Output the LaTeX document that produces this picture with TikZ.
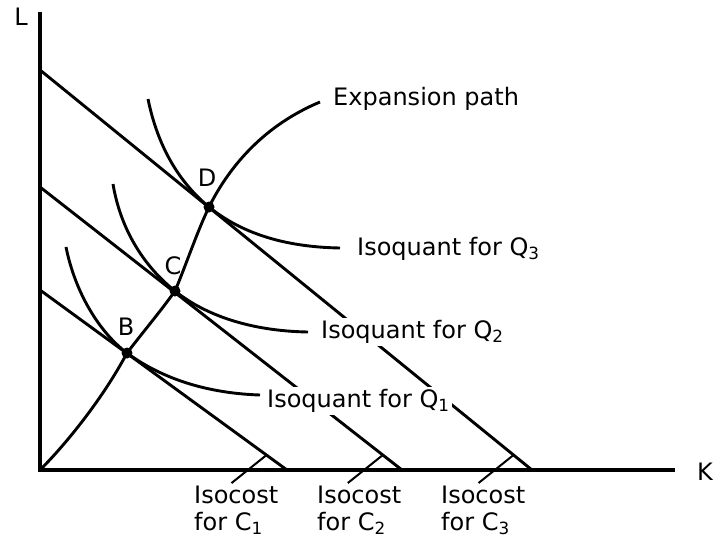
\documentclass[tikz,border=0pt]{standalone}
\usepackage{fontspec}
\setmainfont{DejaVu Sans}
\usetikzlibrary{calc}
\begin{document}
\begin{tikzpicture}[x=1pt,y=-1pt,
  axisline/.style={line width=3.2pt},
  costline/.style={line width=2.9pt},
  quantline/.style={line width=2.9pt},
  anglemark/.style={line width=2pt},
  lbl/.style={font=\fontsize{24}{27}\selectfont, inner sep=1pt},
  wlbl/.style={lbl, fill=white, inner sep=2pt},
  dot/.style={circle, fill=black, inner sep=0pt, minimum size=11pt}]
\useasboundingbox (0,0) rectangle (714,542);

% axes
\coordinate (O) at (40,470);
\coordinate (Ltop) at (40,12);
\coordinate (Kend) at (675,470);
\draw[axisline] (Ltop) -- (O) -- (Kend);
\node[lbl] (Llab) at (21,17) {L};
\node[lbl] (Klab) at (705,472) {K};

% isocost lines
\coordinate (c1a) at (40,290); \coordinate (c1b) at (287,470);
\coordinate (c2a) at (40,187); \coordinate (c2b) at (402,470);
\coordinate (c3a) at (40,70);  \coordinate (c3b) at (532,470);
\draw[costline] (c1a) -- (c1b);
\draw[costline] (c2a) -- (c2b);
\draw[costline] (c3a) -- (c3b);

% angle marks
\coordinate (m1) at ($(c1b)!0.083!(c1a)$);
\coordinate (m2) at ($(c2b)!0.053!(c2a)$);
\coordinate (m3) at ($(c3b)!0.0375!(c3a)$);
\coordinate (n1) at ($(m1)+(-35,28)$);
\coordinate (n2) at ($(m2)+(-35,28)$);
\coordinate (n3) at ($(m3)+(-35,28)$);
\draw[anglemark] (m1) -- (n1);
\draw[anglemark] (m2) -- (n2);
\draw[anglemark] (m3) -- (n3);

% tangency points
\coordinate (B) at (127,353);
\coordinate (C) at (175,291);
\coordinate (D) at (209,207);

% isoquants
\coordinate (q1s) at (66,247);  \coordinate (q1e) at (260,395);
\coordinate (q2s) at (113,184); \coordinate (q2e) at (308,332);
\coordinate (q3s) at (148,99);  \coordinate (q3e) at (340,248);
\draw[quantline] (q1s) .. controls (75,292) and (99,332) .. (B)
  .. controls (157,375) and (200,393) .. (q1e);
\draw[quantline] (q2s) .. controls (121,232) and (146,268) .. (C)
  .. controls (205,315) and (250,331) .. (q2e);
\draw[quantline] (q3s) .. controls (158,148) and (180,183) .. (D)
  .. controls (240,232) and (282,247) .. (q3e);

% expansion path
\coordinate (eend) at (320,102);
\draw[quantline, line join=round] (O) .. controls (65,445) and (102,400) .. (B)
  .. controls (143,332) and (160,312) .. (C)
  .. controls (186,265) and (197,232) .. (D)
  .. controls (230,165) and (265,125) .. (eend);

% dots
\node[dot] (Bdot) at (B) {};
\node[dot] (Cdot) at (C) {};
\node[dot] (Ddot) at (D) {};
\node[lbl] (Blab) at (126,327) {B};
\node[lbl] (Clab) at (173,266) {C};
\node[lbl] (Dlab) at (207,178) {D};

% labels
\node[lbl, anchor=west] (explab) at (332,99) {Expansion path};
\node[wlbl, anchor=west] (q3lab) at (355,249) {Isoquant for Q\textsubscript{3}};
\node[wlbl, anchor=west] (q2lab) at (319,332) {Isoquant for Q\textsubscript{2}};
\node[wlbl, anchor=west] (q1lab) at (265,401) {Isoquant for Q\textsubscript{1}};

\node[lbl, anchor=north west, align=left] (c1lab) at (193,485) {Isocost\\for C\textsubscript{1}};
\node[lbl, anchor=north west, align=left] (c2lab) at (316,485) {Isocost\\for C\textsubscript{2}};
\node[lbl, anchor=north west, align=left] (c3lab) at (440,485) {Isocost\\for C\textsubscript{3}};
\end{tikzpicture}
\end{document}
